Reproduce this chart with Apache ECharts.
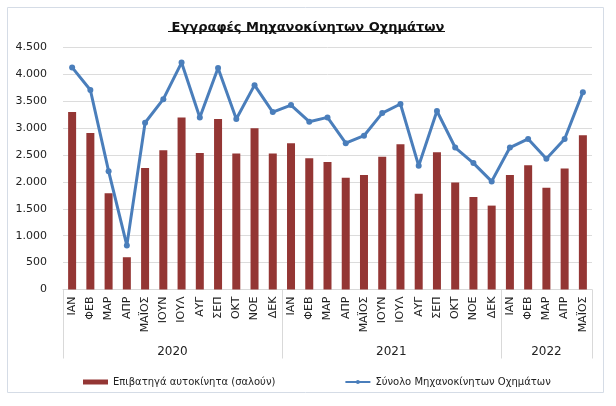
<!DOCTYPE html>
<html>
<head>
<meta charset="utf-8">
<script src="https://cdn.jsdelivr.net/npm/echarts@6/dist/echarts.min.js"></script>
<style>html,body{margin:0;padding:0;background:#fff;}#c{width:616px;height:406px;}</style>
</head>
<body>
<div id="c"></div>
<script>
var months = ['ΙΑΝ','ΦΕΒ','ΜΑΡ','ΑΠΡ','ΜΑΪΟΣ','ΙΟΥΝ','ΙΟΥΛ','ΑΥΓ','ΣΕΠ','ΟΚΤ','ΝΟΕ','ΔΕΚ'];
var years = ['2020','2021','2022'];
var monthsPerYear = [12, 12, 5];
var carsSeriesName = 'Επιβατηγά αυτοκίνητα (σαλούν)';
var totalSeriesName = 'Σύνολο Μηχανοκίνητων Οχημάτων';
var cars = [3300,2910,1790,600,2260,2590,3200,2540,3170,2530,3000,2530,
            2720,2440,2370,2080,2130,2470,2700,1780,2550,1990,1720,1560,
            2130,2310,1890,2250,2870];
var total = [4130,3710,2200,820,3100,3540,4220,3200,4120,3170,3800,3300,
             3430,3120,3200,2720,2860,3280,3450,2300,3320,2640,2350,2010,
             2640,2800,2430,2800,3670];
var yTicks = [0,500,1000,1500,2000,2500,3000,3500,4000,4500];

var categories = [];
var bounds = [0];
var centers = [];
var acc = 0;
monthsPerYear.forEach(function (n) {
  for (var i = 0; i < n; i++) categories.push(months[i]);
  centers.push(acc + n / 2);
  acc += n;
  bounds.push(acc);
});

function fmt(v) { return String(v).replace(/\B(?=(\d{3})+(?!\d))/g, '.'); }

var font = 'DejaVu Sans';
var chart = echarts.init(document.getElementById('c'), null, {renderer: 'canvas'});
chart.setOption({
  animation: false,
  textStyle: {fontFamily: font},
  title: {
    text: 'Εγγραφές Μηχανοκίνητων Οχημάτων',
    left: 'center', top: 16,
    textStyle: {fontFamily: font, fontSize: 13, fontWeight: 'bold', color: '#111'}
  },
  graphic: [
    {type: 'rect', shape: {x: 7.5, y: 7.5, width: 596, height: 385},
     style: {fill: 'none', stroke: '#d5dce6', lineWidth: 1}, silent: true, z: -1},
    {type: 'line', shape: {x1: 168, y1: 31.5, x2: 445, y2: 31.5},
     style: {stroke: '#111', lineWidth: 1}}
  ],
  legend: {
    left: 78, top: 372, itemGap: 69, itemWidth: 25, itemHeight: 5, itemTextGap: 3,
    textStyle: {fontFamily: font, fontSize: 10, color: '#222'},
    data: [{name: carsSeriesName, icon: 'rect'}, {name: totalSeriesName}]
  },
  grid: {left: 63, right: 24, top: 47.5, bottom: 116.5, containLabel: false},
  xAxis: [{
    type: 'category', data: categories, boundaryGap: true,
    axisLine: {show: true, lineStyle: {color: '#d9d9d9'}},
    axisTick: {show: false},
    axisLabel: {rotate: 90, interval: 0, margin: 7, fontSize: 11, color: '#222', fontFamily: font}
  }, {
    type: 'value', min: 0, max: categories.length, position: 'bottom',
    axisLine: {show: false},
    splitLine: {show: false},
    axisTick: {show: true, customValues: bounds, length: 69, inside: false,
               lineStyle: {color: '#d9d9d9'}},
    axisLabel: {customValues: centers, margin: 56, fontSize: 12, color: '#222', fontFamily: font,
                formatter: function (v) { return years[centers.indexOf(v)]; }}
  }],
  yAxis: {
    type: 'value', min: 0, max: 4500, interval: 500,
    axisLine: {show: false}, axisTick: {show: false},
    splitLine: {lineStyle: {color: '#dcdcdc'}},
    axisLabel: {fontSize: 11, color: '#222', margin: 16, fontFamily: font,
                customValues: yTicks, formatter: function (v) { return fmt(v); }}
  },
  series: [{
    name: carsSeriesName, type: 'bar', data: cars, barWidth: 8,
    itemStyle: {color: '#943634'}
  }, {
    name: totalSeriesName, type: 'line', data: total,
    lineStyle: {color: '#4a7ebb', width: 3},
    itemStyle: {color: '#4a7ebb'},
    symbol: 'circle', symbolSize: 6, showSymbol: true
  }]
});
</script>
</body>
</html>
